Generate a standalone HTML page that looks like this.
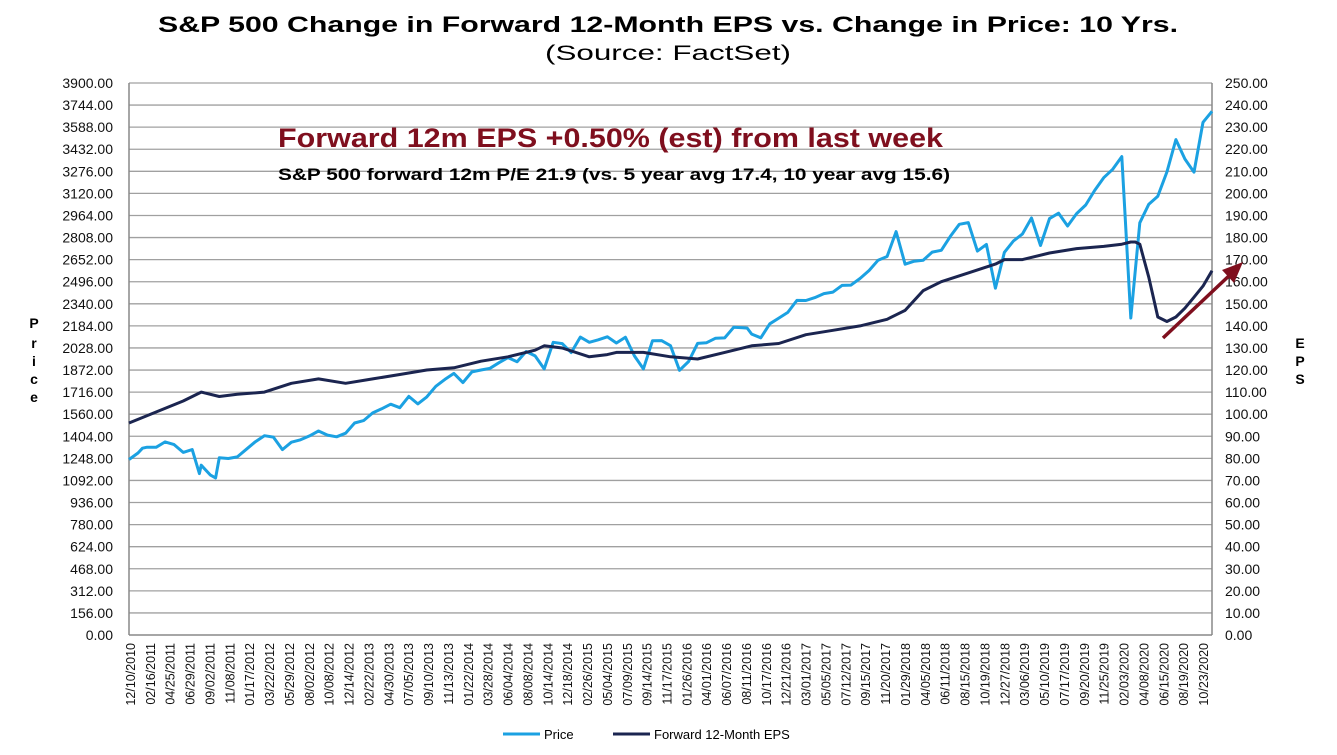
<!DOCTYPE html>
<html><head><meta charset="utf-8">
<style>
html,body{margin:0;padding:0;background:#fff;}
svg{display:block;font-family:"Liberation Sans",Arial,sans-serif;}
</style></head>
<body>
<svg id="chart" width="1337" height="755" viewBox="0 0 1337 755" xmlns="http://www.w3.org/2000/svg">
<text x="668" y="32" text-anchor="middle" font-size="22" font-weight="bold" fill="#000" textLength="1020" lengthAdjust="spacingAndGlyphs">S&amp;P 500 Change in Forward 12-Month EPS vs. Change in Price: 10 Yrs.</text>
<text x="668" y="60" text-anchor="middle" font-size="21" fill="#000" textLength="246" lengthAdjust="spacingAndGlyphs">(Source: FactSet)</text>
<g id="grid"></g>
<g id="yleft"></g>
<g id="yright"></g>
<g id="xaxis"></g>
<g id="series"></g>
<text font-size="14" font-weight="bold" fill="#000" text-anchor="middle">
<tspan x="34" y="328">P</tspan><tspan x="34" y="348">r</tspan><tspan x="34" y="366">i</tspan><tspan x="34" y="384">c</tspan><tspan x="34" y="402">e</tspan></text>
<text font-size="14" font-weight="bold" fill="#000" text-anchor="middle">
<tspan x="1300" y="348">E</tspan><tspan x="1300" y="366">P</tspan><tspan x="1300" y="384">S</tspan></text>
<text x="278" y="147" font-size="27" font-weight="bold" fill="#7f0f1e" textLength="665" lengthAdjust="spacingAndGlyphs">Forward 12m EPS +0.50% (est) from last week</text>
<text x="278" y="180" font-size="17" font-weight="bold" fill="#000" textLength="672" lengthAdjust="spacingAndGlyphs">S&amp;P 500 forward 12m P/E 21.9 (vs. 5 year avg 17.4, 10 year avg 15.6)</text>
<line x1="1163" y1="338" x2="1232" y2="273" stroke="#7f0f1e" stroke-width="3.5"/>
<polygon points="1243,262 1222,270 1234,283" fill="#7f0f1e"/>
<g>
<line x1="503" y1="734" x2="540" y2="734" stroke="#1ba1e2" stroke-width="3"/>
<text x="544" y="739" font-size="13">Price</text>
<line x1="613" y1="734" x2="650" y2="734" stroke="#1b2550" stroke-width="3"/>
<text x="654" y="739" font-size="13">Forward 12-Month EPS</text>
</g>
</svg>
<script>
// months since 12/10/2010
const priceT=[0,1,1.5,2,3,4,5,6,7,7.8,8,9,9.6,10,11,12,13,14,15,16,17,18,19,20,21,22,23,24,25,26,27,28,29,30,31,32,33,34,35,36,37,38,39,40,41,42,43,44,45,46,47,48,49,50,51,52,53,54,55,56,57,58,59,60,61,62,63,64,65,66,67,68,68.5,69,70,71,72,73,74,75,76,77,78,79,80,81,82,83,84,85,86,87,88,89,90,91,92,93,94,95,96,97,98,99,100,101,102,103,104,105,106,107,108,109,110,111,112,113,114,115,116,117,118,119,120];
const priceV=[1240,1286,1320,1327,1326,1364,1345,1290,1310,1140,1200,1131,1110,1253,1247,1258,1312,1366,1408,1398,1310,1362,1379,1407,1441,1412,1400,1426,1498,1515,1569,1598,1631,1606,1686,1633,1682,1757,1806,1848,1783,1859,1872,1884,1924,1960,1931,2003,1972,1880,2068,2059,1995,2105,2068,2086,2107,2063,2104,1972,1880,2079,2080,2044,1870,1932,2060,2065,2097,2099,2174,2171,2168,2126,2100,2199,2239,2279,2364,2363,2384,2412,2423,2470,2472,2519,2575,2648,2674,2850,2620,2641,2648,2705,2718,2816,2902,2914,2712,2760,2450,2704,2784,2834,2946,2752,2942,2980,2890,2977,3038,3141,3231,3290,3380,2240,2912,3044,3100,3271,3500,3363,3270,3622,3700];
const epsT=[0,3,6,8,10,12,15,18,21,24,27,30,33,36,39,42,45,46,48,51,53,54,57,60,63,66,69,72,75,78,81,84,85,86,88,90,93,96,97,99,102,105,108,110,111,111.5,112,113,114,115,116,117,118,119,120];
const epsV=[96,101,106,110,108,109,110,114,116,114,116,118,120,121,124,126,129,131,130,126,127,128,128,126,125,128,131,132,136,138,140,143,145,147,156,160,164,168,170,170,173,175,176,177,178,178,177,162,144,142,144,148,153,158,165];
const xLabels=["12/10/2010","02/16/2011","04/25/2011","06/29/2011","09/02/2011","11/08/2011","01/17/2012","03/22/2012","05/29/2012","08/02/2012","10/08/2012","12/14/2012","02/22/2013","04/30/2013","07/05/2013","09/10/2013","11/13/2013","01/22/2014","03/28/2014","06/04/2014","08/08/2014","10/14/2014","12/18/2014","02/26/2015","05/04/2015","07/09/2015","09/14/2015","11/17/2015","01/26/2016","04/01/2016","06/07/2016","08/11/2016","10/17/2016","12/21/2016","03/01/2017","05/05/2017","07/12/2017","09/15/2017","11/20/2017","01/29/2018","04/05/2018","06/11/2018","08/15/2018","10/19/2018","12/27/2018","03/06/2019","05/10/2019","07/17/2019","09/20/2019","11/25/2019","02/03/2020","04/08/2020","06/15/2020","08/19/2020","10/23/2020"];
const L=129,R=1212,T=83,B=635,TMAX=120,PMAX=3900,EMAX=250,N=25;
const NS="http://www.w3.org/2000/svg";
const xs=t=>L+t/TMAX*(R-L);
const yp=v=>B-v/PMAX*(B-T);
const ye=v=>B-v/EMAX*(B-T);
function mk(tag,attrs,parent){const e=document.createElementNS(NS,tag);for(const k in attrs)e.setAttribute(k,attrs[k]);parent.appendChild(e);return e;}
const grid=document.getElementById('grid'),yl=document.getElementById('yleft'),yr=document.getElementById('yright'),xa=document.getElementById('xaxis'),ser=document.getElementById('series');
for(let i=0;i<=N;i++){
  const y=B-i*(B-T)/N;
  if(i>0){const g=mk('line',{x1:L,x2:R,y1:y,y2:y,stroke:'#a0a0a0','stroke-width':1.3},grid);
  
  }
  const a=mk('text',{x:113,y:y+5,'text-anchor':'end','font-size':14,fill:'#111'},yl);
  a.textContent=(PMAX*i/N).toFixed(2);
  
  
  const b=mk('text',{x:1225,y:y+5,'font-size':14,fill:'#111'},yr);
  b.textContent=(EMAX*i/N).toFixed(2);
  
  
}
mk('line',{x1:L,x2:L,y1:T,y2:B,stroke:'#888','stroke-width':1.5},grid);
mk('line',{x1:R,x2:R,y1:T,y2:B,stroke:'#888','stroke-width':1.5},grid);
mk('line',{x1:L,x2:R,y1:B,y2:B,stroke:'#888','stroke-width':1.5},grid);
const step=(1203-130)/(xLabels.length-1);
xLabels.forEach((s,i)=>{
  const x=130+i*step;
  const t=mk('text',{transform:`translate(${x+5},643) rotate(-90)`,'text-anchor':'end','font-size':12.5,fill:'#111'},xa);
  t.textContent=s;
  
  
});
const pp=mk('polyline',{points:priceT.map((t,i)=>xs(t).toFixed(1)+','+yp(priceV[i]).toFixed(1)).join(' '),fill:'none',stroke:'#1ba1e2','stroke-width':3,'stroke-linejoin':'round'},ser);


const ep=mk('polyline',{points:epsT.map((t,i)=>xs(t).toFixed(1)+','+ye(epsV[i]).toFixed(1)).join(' '),fill:'none',stroke:'#1b2550','stroke-width':3,'stroke-linejoin':'round'},ser);


</script>
</body></html>
